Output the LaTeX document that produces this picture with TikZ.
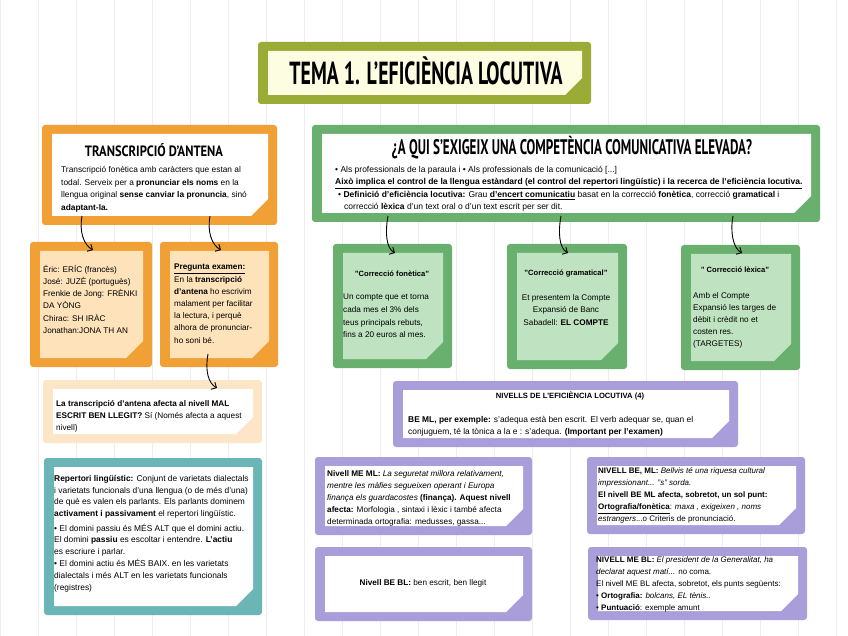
\documentclass[tikz,border=0pt]{standalone}
\usepackage{fontspec}
\setmainfont{Liberation Sans}
\newfontfamily\handfont[FakeStretch=0.62]{PT Sans}
\usetikzlibrary{arrows.meta,calc}
\definecolor{cOlive}{HTML}{9AAB36}
\definecolor{cCream}{HTML}{FDFDE2}
\definecolor{cOrange}{HTML}{F0A035}
\definecolor{cPeach}{HTML}{FDE2BA}
\definecolor{cPale}{HTML}{FDE6C8}
\definecolor{cGreen}{HTML}{69B06E}
\definecolor{cLGreen}{HTML}{BFE3C0}
\definecolor{cPurple}{HTML}{A99ED9}
\definecolor{cTeal}{HTML}{6CB5B6}
\definecolor{cGrid}{HTML}{EDEDED}
\newcommand\notebox[7]{%
  \node[notebg, fill=#6, minimum width={(#4-#2)*1pt}, minimum height={(#5-#3)*1pt}] (#1) at ({(#2+#4)/2},{(#3+#5)/2}) {};
  \fill[#7] ({#2+10},{#3+9}) -- ({#4-9},{#3+9}) -- ({#4-9},{#5-26}) -- ({#4-26},{#5-9}) -- ({#2+10},{#5-9}) -- cycle;
}
\tikzset{
  notebg/.style={inner sep=0pt, outer sep=0pt, rounded corners=3pt, draw=none},
  body/.style={anchor=north west, align=left, inner sep=0pt, font=\fontsize{8.2}{12.2}\selectfont},
  cbody/.style={anchor=north, align=center, inner sep=0pt, font=\fontsize{8.2}{12.6}\selectfont},
  gtitle/.style={inner sep=0pt, font=\fontsize{7.6}{9}\selectfont\bfseries},
  conn/.style={line width=0.9pt, -{Straight Barb[length=4pt,width=8pt]}},
}
\begin{document}
\begin{tikzpicture}[x=1pt,y=-1pt]
\useasboundingbox (0,0) rectangle (848,636);
\fill[white] (0,0) rectangle (848,636);
\draw[cGrid, line width=0.5pt, step=38] (0,0) grid (848,636);

% boxes
\notebox{title}{258}{42}{591}{104}{cOlive}{cCream}
\notebox{trans}{42}{125}{277}{225}{cOrange}{white}
\notebox{orL}{30}{242}{152}{367}{cOrange}{cPeach}
\notebox{orR}{160}{242}{278}{367}{cOrange}{cPeach}
\notebox{pale}{43}{380}{262}{443}{cPale}{white}
\notebox{green}{312}{125}{820}{222}{cGreen}{white}
\notebox{g1}{333}{244}{452}{368}{cGreen}{cLGreen}
\notebox{g2}{507}{244}{627}{369}{cGreen}{cLGreen}
\notebox{g3}{681}{245}{800}{370}{cGreen}{cLGreen}
\notebox{niv}{393}{381}{738}{447}{cPurple}{white}
\notebox{teal}{44}{458}{262}{615}{cTeal}{white}
\notebox{pML}{315}{457}{532}{535}{cPurple}{white}
\notebox{pMR}{587}{457}{805}{534}{cPurple}{white}
\notebox{pBL}{315}{547}{532}{621}{cPurple}{white}
\notebox{pBR}{588}{547}{807}{620}{cPurple}{white}

% headings
\node[inner sep=0pt] (title-t) at (426,71) {\resizebox{273pt}{!}{\handfont\bfseries TEMA 1. L’EFICIÈNCIA LOCUTIVA}};
\node[inner sep=0pt] (trans-h) at (154,150) {\resizebox{138pt}{13pt}{\handfont\bfseries TRANSCRIPCIÓ D’ANTENA}};
\node[inner sep=0pt] (green-h) at (572,148) {\resizebox{360pt}{!}{\handfont\bfseries ¿A QUI S’EXIGEIX UNA COMPETÈNCIA COMUNICATIVA ELEVADA?}};

% texts
\node[body, font=\fontsize{8.35}{12.7}\selectfont] (trans-t) at (61,166) {Transcripció fonètica amb caràcters que estan al\\
todal. Serveix per a \textbf{pronunciar els noms} en la\\
llengua original \textbf{sense canviar la pronuncia}, sinó\\
\textbf{adaptant-la.}};

\node[body] (orL-t) at (43,265) {Éric: ERÍC (francès)\\
José: JUZÈ (portuguès)\\
Frenkie de Jong: FRÈNKI\\
DA YÒNG\\
Chirac: SH IRÀC\\
Jonathan:JONA TH AN};

\node[body] (orR-t) at (174,264) {\textbf{\underline{Pregunta examen:}}\\
En la \textbf{transcripció}\\
\textbf{d’antena} ho escrivim\\
malament per facilitar\\
la lectura, i perquè\\
alhora de pronunciar-\\
ho soni bé.};

\node[body] (pale-t) at (56,400) {\textbf{La transcripció d’antena afecta al nivell MAL}\\
\textbf{ESCRIT BEN LLEGIT?} Sí (Només afecta a aquest\\
nivell)};

\node[body, font=\fontsize{8.5}{12.4}\selectfont] (green-t) at (335,166) {\textbullet\ Als professionals de la paraula i \textbullet\ Als professionals de la comunicació [...]\\
\textbf{\underline{Això implica el control de la llengua estàndard (el control del repertori lingüístic) i la recerca de l’eficiència locutiva.}}\\
\hspace*{3pt}\textbullet\ \textbf{Definició d’eficiència locutiva:} Grau \textbf{\underline{d’encert comunicatiu}} basat en la correcció \textbf{fonètica}, correcció \textbf{gramatical} i\\
\hspace*{9pt}correcció \textbf{lèxica} d’un text oral o d’un text escrit per ser dit.};

\node[gtitle] (g1-h) at (392,274) {"Correcció fonètica"};
\node[body, font=\fontsize{8.2}{12.7}\selectfont] (g1-t) at (343,294) {Un compte que et torna\\
cada mes el 3\% dels\\
teus principals rebuts,\\
fins a 20 euros al mes.};

\node[gtitle] (g2-h) at (566,274) {"Correcció gramatical"};
\node[cbody] (g2-t) at (566,294) {Et presentem la Compte\\
Expansió de Banc\\
Sabadell: \textbf{EL COMPTE}};

\node[gtitle] (g3-h) at (735,270) {" Correcció lèxica"};
\node[body] (g3-t) at (693,292) {Amb el Compte\\
Expansió les targes de\\
dèbit i crèdit no et\\
costen res.\\
(TARGETES)};

\node[gtitle] (niv-h) at (570,396) {NIVELLS DE L’EFICIÈNCIA LOCUTIVA (4)};
\node[body, font=\fontsize{8.4}{12.2}\selectfont] (niv-t) at (408,416) {\textbf{BE ML, per exemple:} s’adequa està ben escrit. El verb adequar se, quan el\\
conjuguem, té la tònica a la e : s’adequa. \textbf{(Important per l’examen)}};

\node[body, font=\fontsize{8.4}{11.8}\selectfont] (teal-t) at (54,475) {\textbf{Repertori lingüístic:} Conjunt de varietats dialectals\\
i varietats funcionals d’una llengua (o de més d’una)\\
de què es valen els parlants. Els parlants dominem\\
\textbf{activament i passivament} el repertori lingüístic.\\[2.5pt]
\textbullet\ El domini passiu és MÉS ALT que el domini actiu.\\
El domini \textbf{passiu} es escoltar i entendre. \textbf{L’actiu}\\
es escriure i parlar.\\
\textbullet\ El domini actiu és MÉS BAIX. en les varietats\\
dialectals i més ALT en les varietats funcionals\\
(registres)};

\node[body] (pML-t) at (327,470) {\textbf{Nivell ME ML:} \textit{La seguretat millora relativament,}\\
\textit{mentre les màfies segueixen operant i Europa}\\
\textit{finança els guardacostes} \textbf{(finança). Aquest nivell}\\
\textbf{afecta:} Morfologia , sintaxi i lèxic i també afecta\\
determinada ortografia: medusses, gassa...};

\node[body, font=\fontsize{8}{12.2}\selectfont] (pMR-t) at (598,467) {\textbf{NIVELL BE, ML:} \textit{Bellvis té una riquesa cultural}\\
\textit{impressionant... "s" sorda.}\\
\textbf{El nivell BE ML afecta, sobretot, un sol punt:}\\
\textbf{\underline{Ortografia/fonètica}}: \textit{maxa , exigeixen , noms}\\
\textit{estrangers}...o Criteris de pronunciació.};

\node[inner sep=0pt, font=\fontsize{8.2}{12}\selectfont] (pBL-t) at (423,583) {\textbf{Nivell BE BL:} ben escrit, ben llegit};

\node[body, font=\fontsize{8}{12}\selectfont] (pBR-t) at (596,556) {\textbf{NIVELL ME BL:} \textit{El president de la Generalitat, ha}\\
\textit{declarat aquest matí...} no coma.\\
El nivell ME BL afecta, sobretot, els punts següents:\\
\textbullet\ \textbf{Ortografia:} \textit{bolcans, EL tènis..}\\
\textbullet\ \textbf{Puntuació}: exemple amunt};

% connectors
\draw[conn] ([xshift=40pt,yshift=9pt]trans.south west) .. controls +(-3,16) and +(-9,-5) .. ([xshift=63pt,yshift=-8pt]orL.north west);
\draw[conn] ([xshift=168pt,yshift=9pt]trans.south west) .. controls +(-3,16) and +(-9,-5) .. ([xshift=61pt,yshift=-8pt]orR.north west);
\draw[conn] ([xshift=48pt,yshift=13pt]orR.south west) .. controls +(-3,16) and +(-9,-5) .. ([xshift=174pt,yshift=-8pt]pale.north west);
\draw[conn] ([xshift=76pt,yshift=6pt]green.south west) .. controls +(-3,16) and +(-9,-5) .. ([xshift=62pt,yshift=-9pt]g1.north west);
\draw[conn] ([xshift=249pt,yshift=6pt]green.south west) .. controls +(-3,16) and +(-9,-5) .. ([xshift=61pt,yshift=-9pt]g2.north west);
\draw[conn] ([xshift=421pt,yshift=6pt]green.south west) .. controls +(-3,16) and +(-9,-5) .. ([xshift=61pt,yshift=-8pt]g3.north west);
\end{tikzpicture}
\end{document}
